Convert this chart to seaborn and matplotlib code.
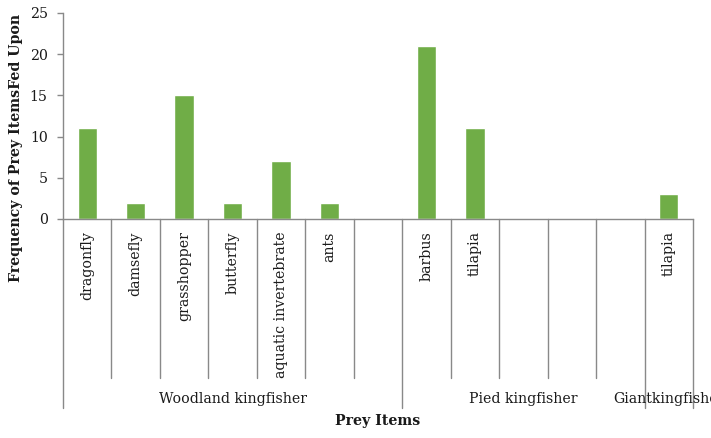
import numpy as np
import pandas as pd
import matplotlib
matplotlib.use("Agg")
import matplotlib.pyplot as plt
import seaborn as sns

# prey items per slot (blank slots are empty categories on the axis)
prey_items = ["dragonfly", "damsefly", "grasshopper", "butterfly",
              "aquatic invertebrate", "ants", "",
              "barbus", "tilapia", "", "", "",
              "tilapia"]
frequency = [11, 2, 15, 2, 7, 2, np.nan,
             21, 11, np.nan, np.nan, np.nan,
             3]

birds = ["Woodland kingfisher", "Pied kingfisher", "Giantkingfisher"]
bird_slots = [7, 5, 1]

sns.set_style("white")
plt.rcParams["font.family"] = ["DejaVu Serif"]

df = pd.DataFrame({
    "slot": [str(i) for i in range(len(prey_items))],
    "freq": frequency,
})

fig = plt.figure(figsize=(7.11, 4.38), dpi=100)
ax = fig.add_axes([63 / 711, 0.5, (693 - 63) / 711, (219 - 13) / 438])

sns.barplot(
    data=df,
    x="slot",
    y="freq",
    order=df["slot"].tolist(),
    color="#70AD47",
    saturation=1,
    width=0.4,
    ax=ax
)

ax.set_xlim(-0.5, len(prey_items) - 0.5)
ax.set_ylim(0, 25)
ax.set_yticks([0, 5, 10, 15, 20, 25])

axis_color = "#898989"
for side in ["top", "right"]:
    ax.spines[side].set_visible(False)
for side in ["left", "bottom"]:
    ax.spines[side].set_color(axis_color)
    ax.spines[side].set_linewidth(1.0)

fs = 10.2
ax.tick_params(axis="y", length=4, width=1, color=axis_color,
               labelsize=fs, pad=7, direction="out", left=True,
               labelcolor="#1a1a1a")
ax.tick_params(axis="x", length=0, labelsize=fs, pad=9,
               labelcolor="#1a1a1a")
ax.set_xticks(range(len(prey_items)))
ax.set_xticklabels(prey_items, rotation=90, va="top")

ax.set_xlabel("")
ax.set_ylabel("")

# separators between prey items and between bird groups
trans = ax.get_xaxis_transform()
edges = np.cumsum([0] + bird_slots) - 0.5
for k in range(len(prey_items) + 1):
    xpos = k - 0.5
    if np.isclose(edges, xpos).any():
        y_end = -0.917
    else:
        y_end = -0.772
    ax.plot([xpos, xpos], [0, y_end], color=axis_color, lw=1.0,
            transform=trans, clip_on=False)

for name, start, n in zip(birds, edges[:-1], bird_slots):
    ax.text(start + n / 2, -0.874, name, transform=trans,
            ha="center", va="center", fontsize=fs, color="#1a1a1a")

fig.text(378 / 711, 1 - 421 / 438, "Prey Items", ha="center", va="center",
         fontsize=fs, fontweight="bold", color="#1a1a1a")
fig.text(16 / 711, 1 - 148 / 438, "Frequency of Prey ItemsFed Upon",
         ha="center", va="center", rotation=90,
         fontsize=fs, fontweight="bold", color="#1a1a1a")

fig.savefig("out.png", dpi=100)
